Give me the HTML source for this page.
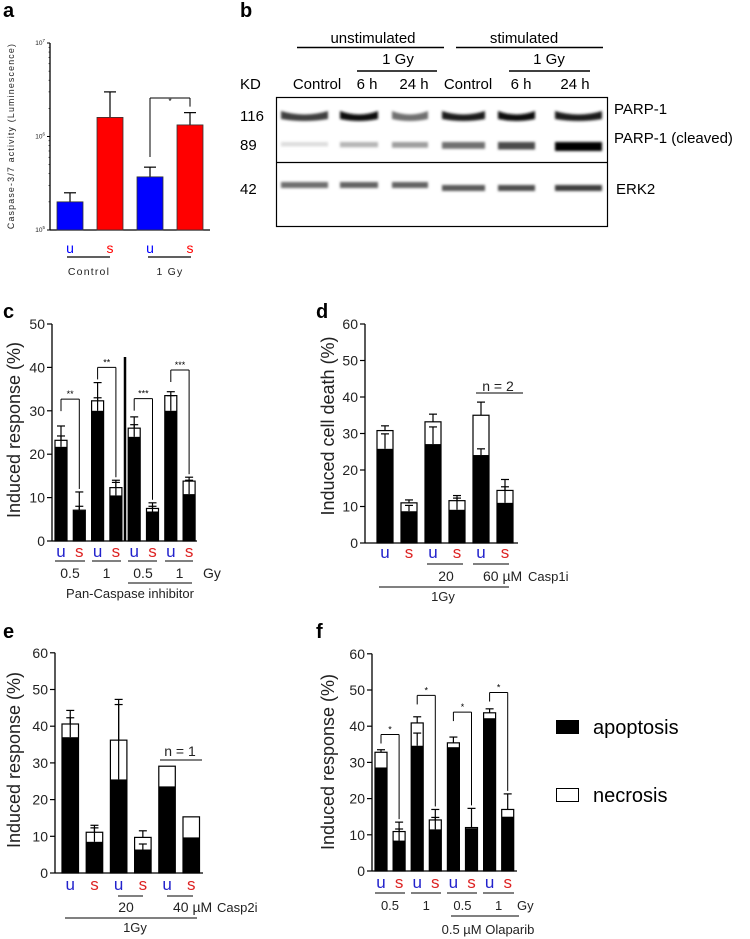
<!DOCTYPE html>
<html><head><meta charset="utf-8">
<style>
html,body{margin:0;padding:0;background:#fff;}
svg{display:block;font-family:"Liberation Sans",Arial,sans-serif;}
</style></head>
<body>
<svg id="fig" width="750" height="939" viewBox="0 0 750 939" xmlns="http://www.w3.org/2000/svg">
<defs>
<filter id="blur1" x="-10%" y="-100%" width="120%" height="300%"><feGaussianBlur stdDeviation="1.4"/></filter>
</defs>
<text x="3" y="17" font-size="20" font-weight="bold">a</text>
<text x="240" y="17" font-size="20" font-weight="bold">b</text>
<text x="3" y="318" font-size="20" font-weight="bold">c</text>
<text x="316" y="318" font-size="20" font-weight="bold">d</text>
<text x="3" y="638" font-size="20" font-weight="bold">e</text>
<text x="316" y="638" font-size="20" font-weight="bold">f</text>

<g id="blot">
<text x="373" y="43" font-size="15" text-anchor="middle">unstimulated</text>
<line x1="297" y1="47.5" x2="444" y2="47.5" stroke="#000" stroke-width="1.5"/>
<text x="524" y="43" font-size="15" text-anchor="middle">stimulated</text>
<line x1="456" y1="47.5" x2="603" y2="47.5" stroke="#000" stroke-width="1.5"/>
<text x="398" y="64" font-size="15" text-anchor="middle">1 Gy</text>
<line x1="357" y1="71" x2="437" y2="71" stroke="#000" stroke-width="1.5"/>
<text x="549" y="64" font-size="15" text-anchor="middle">1 Gy</text>
<line x1="509" y1="71" x2="590" y2="71" stroke="#000" stroke-width="1.5"/>
<text x="240" y="89" font-size="15">KD</text>
<g font-size="15" text-anchor="middle">
<text x="317" y="89">Control</text>
<text x="367" y="89">6 h</text>
<text x="414" y="89">24 h</text>
<text x="468" y="89">Control</text>
<text x="521" y="89">6 h</text>
<text x="575" y="89">24 h</text>
</g>
<text x="240" y="121" font-size="15">116</text>
<text x="240" y="150" font-size="15">89</text>
<text x="240" y="194" font-size="15">42</text>
<text x="614" y="114" font-size="15">PARP-1</text>
<text x="614" y="143" font-size="15">PARP-1 (cleaved)</text>
<text x="616" y="194" font-size="15">ERK2</text>
<g id="bands" filter="url(#blur1)"></g>
<rect x="276.5" y="97.5" width="331" height="129" fill="none" stroke="#000" stroke-width="1.2"/>
<line x1="276.5" y1="162.5" x2="607.5" y2="162.5" stroke="#000" stroke-width="1.2"/>
</g>

<rect x="556" y="720" width="23" height="14" fill="#000"/>
<text x="593" y="734" font-size="20">apoptosis</text>
<rect x="556.5" y="788.5" width="22" height="13" fill="#fff" stroke="#000"/>
<text x="593" y="802" font-size="20">necrosis</text>
</svg>
<script>
const aCats = ["u","s","u","s"];
const aValues = [2.0e5, 1.6e6, 3.7e5, 1.33e6];
const aErrors = [2.5e5, 3.0e6, 4.7e5, 1.8e6];
const aTicks = [5,6,7];
const bParp = [0.75, 0.95, 0.55, 0.9, 0.95, 0.9];
const bCleaved = [0.08, 0.25, 0.35, 0.55, 0.7, 1.0];
const bErk = [0.65, 0.7, 0.7, 0.75, 0.8, 0.9];
const cCats = ["u","s","u","s","u","s","u","s"];
const cTotal = [23.2, 7.1, 32.3, 12.3, 26.0, 7.5, 33.5, 13.8];
const cApop = [21.7, 7.0, 30.0, 10.5, 24.0, 6.8, 30.0, 10.8];
const cErrTotal = [26.5, 11.3, 36.5, 14.0, 28.6, 8.8, 34.4, 14.7];
const cErrApop = [24.2, 8.0, 33.0, 13.5, 26.8, 8.0, 33.5, 14.0];
const cBrackets = [32.7, 40.0, 32.8, 39.4];
const cStars = ["**","**","***","***"];
const cTicks = [0,10,20,30,40,50];
const dCats = ["u","s","u","s","u","s"];
const dTotal = [30.8, 11.0, 33.2, 11.6, 35.0, 14.4];
const dApop = [25.8, 8.7, 27.1, 9.1, 24.1, 11.0];
const dErrTotal = [32.1, 11.8, 35.3, 13.0, 38.6, 17.4];
const dErrApop = [29.9, 10.3, 31.8, 12.3, 25.8, 15.4];
const dTicks = [0,10,20,30,40,50,60];
const eCats = ["u","s","u","s","u","s"];
const eTotal = [40.6, 11.1, 36.2, 9.7, 29.1, 15.3];
const eApop = [37.0, 8.5, 25.5, 6.4, 23.6, 9.7];
const eErrTotal = [44.3, 13.0, 47.3, 11.5, null, null];
const eErrApop = [42.3, 12.3, 45.9, 7.9, null, null];
const eTicks = [0,10,20,30,40,50,60];
const fCats = ["u","s","u","s","u","s","u","s"];
const fTotal = [32.8, 10.9, 40.9, 14.1, 35.4, 12.0, 43.7, 17.0];
const fApop = [28.6, 8.4, 34.6, 11.5, 34.2, 11.8, 42.2, 15.0];
const fErrTotal = [33.5, 13.5, 42.6, 17.0, 37.0, 17.3, 44.8, 21.3];
const fErrApop = [null, 11.6, 38.1, 14.8, null, null, null, null];
const fBrackets = [37.7, 48.5, 43.9, 49.3];
const fStars = ["*","*","*","*"];
const fTicks = [0,10,20,30,40,50,60];

const NS = "http://www.w3.org/2000/svg";
const svg = document.getElementById("fig");
function mk(tag, attrs, parent){
  const e = document.createElementNS(NS, tag);
  for (const k in attrs) e.setAttribute(k, attrs[k]);
  (parent||svg).appendChild(e);
  return e;
}
function line(x1,y1,x2,y2,w,p){return mk("line",{x1:x1,y1:y1,x2:x2,y2:y2,stroke:"#000","stroke-width":w||1.3},p);}
function txt(x,y,s,size,anchor,fill,p){const t=mk("text",{x:x,y:y,"font-size":size,"text-anchor":anchor||"start",fill:fill||"#222"},p);t.textContent=s;return t;}

(function(){
  const g = mk("g",{});
  
  
  const axX = 50, y0 = 230, yTop = 43;
  const ya = v => y0 - (Math.log10(v) - 5) / 2 * (y0 - yTop);
  const xa = i => 57 + i * 40;
  const bw = 26;
  line(axX, yTop, axX, y0, 1.3, g);
  line(axX, y0, 210, y0, 1.3, g);
  aTicks.forEach(p => {
    const y = y0 - (p - 5) / 2 * (y0 - yTop);
    line(axX - 3, y, axX, y, 1, g);
    const t = mk("text",{x:axX-5,y:y+2,"font-size":6.5,"text-anchor":"end",fill:"#222"},g);
    t.textContent = "10";
    const s = mk("tspan",{dy:-3,"font-size":4.5},t); s.textContent = String(p);
    
    
    if (p < 7) for (let m = 2; m < 10; m++) {
      const ym = ya(m * Math.pow(10, p));
      line(axX - 1.5, ym, axX, ym, 0.6, g);
    }
  });
  aValues.forEach((v,i) => {
    const col = aCats[i] === "u" ? "#0000ff" : "#ff0000";
    const x = xa(i);
    const ye = ya(aErrors[i]);
    line(x + bw/2, ye, x + bw/2, ya(v), 1.2, g);
    line(x + bw/2 - 6, ye, x + bw/2 + 6, ye, 1.2, g);
    const r = mk("rect",{x:x,y:ya(v),width:bw,height:y0-ya(v),fill:col,stroke:"#333","stroke-width":0.8},g);
    
    
    const l = txt(x + bw/2, 253, aCats[i], 14, "middle", col, g);
    
    
  });
  const bx1 = xa(2) + bw/2, bx2 = xa(3) + bw/2, by = 98;
  line(bx1, 157, bx1, by, 1, g); line(bx1, by, bx2, by, 1, g); line(bx2, by, bx2, ya(aErrors[3]) - 6, 1, g);
  txt((bx1+bx2)/2, 104, "*", 8, "middle", "#000", g);
  line(67, 257, 110, 257, 1.2, g);
  line(148, 257, 191, 257, 1.2, g);
  const c1 = txt(89, 275, "Control", 10.5, "middle", "#222", g); c1.setAttribute("letter-spacing","1.2");
  
  
  const c2 = txt(170, 275, "1 Gy", 10.5, "middle", "#222", g); c2.setAttribute("letter-spacing","1.2");
  
  
  const yt = txt(0, 0, "Caspase-3/7 activity (Luminescence)", 8.8, "middle", "#222", g);
  yt.setAttribute("transform","translate(14,136) rotate(-90)");
  yt.setAttribute("letter-spacing","1.2");
  
  
})();

(function(){
  const bg = document.getElementById("bands");
  const lanes = [[281,328],[340,378],[392,428],[442,485],[498,535],[555,602]];
  lanes.forEach((ln,i) => {
    const w = ln[1]-ln[0];
    const gray = v => { const c = Math.round(240 - v*235); return "rgb("+c+","+c+","+c+")"; };
    const p = mk("path",{d:"M"+ln[0]+" 111 Q"+(ln[0]+w/2)+" 118 "+ln[1]+" 111 L"+ln[1]+" 119 Q"+(ln[0]+w/2)+" 123 "+ln[0]+" 119 Z",fill:gray(bParp[i])},bg);
    
    
    const c = mk("rect",{x:ln[0],y:142,width:w,height:4+bCleaved[i]*5,fill:gray(bCleaved[i])},bg);
    
    
    const e = mk("rect",{x:ln[0],y:182+(i>2?3:0),width:w,height:6,fill:gray(bErk[i]*0.85)},bg);
    
    
  });
})();

function stacked(cfg){
  const g = mk("g",{});
  
  
  const y = v => cfg.y0 - v * cfg.k;
  const x = i => cfg.x0 + i * cfg.step;
  const bw = cfg.bw;
  const yTop = y(cfg.ticks[cfg.ticks.length-1]);
  line(cfg.axX, yTop, cfg.axX, cfg.y0, 1.3, g);
  line(cfg.axX, cfg.y0, cfg.axEnd, cfg.y0, 1.3, g);
  cfg.ticks.forEach(t => {
    line(cfg.axX - 5, y(t), cfg.axX, y(t), 1.2, g);
    const tl = txt(cfg.axX - 7, y(t) + 5, String(t), 14, "end", "#222", g);
    
    
  });
  cfg.total.forEach((tv,i) => {
    const xi = x(i), cx = xi + bw/2;
    if (cfg.errT[i] != null) {
      line(cx, y(cfg.errT[i]), cx, y(tv), 1.2, g);
      line(cx - 4, y(cfg.errT[i]), cx + 4, y(cfg.errT[i]), 1.2, g);
    }
    const r1 = mk("rect",{x:xi,y:y(tv),width:bw,height:y(0)-y(tv),fill:"#fff",stroke:"#000","stroke-width":1.2},g);
    
    
    const r2 = mk("rect",{x:xi,y:y(cfg.apop[i]),width:bw,height:y(0)-y(cfg.apop[i]),fill:"#000"},g);
    
    
    if (cfg.errA[i] != null) {
      line(cx, y(cfg.errA[i]), cx, y(cfg.apop[i]), 1.2, g);
      line(cx - 4, y(cfg.errA[i]), cx + 4, y(cfg.errA[i]), 1.2, g);
    }
    const lab = txt(cx, cfg.labY, cfg.cats[i], 17, "middle", cfg.cats[i]==="u"?"#2222cc":"#dd2222", g);
    
    
  });
  if (cfg.brackets) cfg.brackets.forEach((bv,j) => {
    const i1 = 2*j, i2 = 2*j+1;
    const x1 = x(i1) + bw/2, x2 = x(i2) + bw/2, by = y(bv);
    line(x1, by, x1, by + cfg.leftLeg, 1, g);
    line(x1, by, x2, by, 1, g);
    line(x2, by, x2, y(cfg.errT[i2]) - 3, 1, g);
    const st = txt((x1+x2)/2, by - 2, cfg.stars[j], 9, "middle", "#000", g);
    
    
  });
  const yt = txt(0, 0, cfg.title, 18, "middle", "#222", g);
  yt.setAttribute("transform","translate("+cfg.titleX+","+cfg.titleY+") rotate(-90)");
  
  
  return g;
}

const gc = stacked({name:"chart-c-pan-caspase",x0:55,step:18.3,bw:12,axX:52,axEnd:197,y0:541,k:4.34,ticks:cTicks,
  total:cTotal,apop:cApop,errT:cErrTotal,errA:cErrApop,cats:cCats,labY:557,brackets:cBrackets,stars:cStars,leftLeg:12,
  title:"Induced response (%)",titleX:20,titleY:430});
line(125, 357, 125, 541, 2.5, gc);
[[55,85],[92,121],[128,157],[165,193]].forEach(s=>line(s[0],561,s[1],561,1.1,gc));
["0.5","1","0.5","1"].forEach((s,i)=>{const t=txt(70+i*36.5,578,s,14,"middle","#222",gc);});
txt(203,578,"Gy",14,"start","#222",gc);
line(128,583,192,583,1.1,gc);
txt(130,598,"Pan-Caspase inhibitor",13,"middle","#222",gc);

const gd = stacked({name:"chart-d-casp1i",x0:377,step:24,bw:16,axX:365,axEnd:518,y0:543,k:3.65,ticks:dTicks,
  total:dTotal,apop:dApop,errT:dErrTotal,errA:dErrApop,cats:dCats,labY:558,
  title:"Induced cell death (%)",titleX:334,titleY:426});
txt(498,391,"n = 2",14,"middle","#222",gd);
line(476,393,523,393,1.1,gd);
line(427,564,463,564,1.1,gd); line(473,564,509,564,1.1,gd);
txt(446,581,"20",14,"middle","#222",gd);
txt(483,581,"60 µM",14,"start","#222",gd);
txt(528,581,"Casp1i",13,"start","#222",gd);
line(379,587,509,587,1.1,gd);
txt(443,601,"1Gy",13,"middle","#222",gd);

const ge = stacked({name:"chart-e-casp2i",x0:62,step:24.2,bw:16.5,axX:55,axEnd:203,y0:873,k:3.67,ticks:eTicks,
  total:eTotal,apop:eApop,errT:eErrTotal,errA:eErrApop,cats:eCats,labY:890,
  title:"Induced response (%)",titleX:20,titleY:760});
txt(180,756,"n = 1",14,"middle","#222",ge);
line(160,760,202,760,1.1,ge);
line(118,896,143,896,1.1,ge); line(167,896,193,896,1.1,ge);
txt(126,912,"20",14,"middle","#222",ge);
txt(173,912,"40 µM",14,"start","#222",ge);
txt(217,912,"Casp2i",13,"start","#222",ge);
line(65,918,197,918,1.1,ge);
txt(135,932,"1Gy",13,"middle","#222",ge);

const gf = stacked({name:"chart-f-olaparib",x0:375,step:18.1,bw:12,axX:372,axEnd:517,y0:871,k:3.62,ticks:fTicks,
  total:fTotal,apop:fApop,errT:fErrTotal,errA:fErrApop,cats:fCats,labY:888,brackets:fBrackets,stars:fStars,leftLeg:9,
  title:"Induced response (%)",titleX:334,titleY:762});
[[375,405],[411,441],[447,477],[483,514]].forEach(s=>line(s[0],893,s[1],893,1.1,gf));
["0.5","1","0.5","1"].forEach((s,i)=>{const t=txt(390+i*36.2,910,s,13,"middle","#222",gf);});
txt(517,910,"Gy",13,"start","#222",gf);
line(451,916,519,916,1.1,gf);
txt(488,934,"0.5 µM Olaparib",13,"middle","#222",gf);
</script>
</body></html>
